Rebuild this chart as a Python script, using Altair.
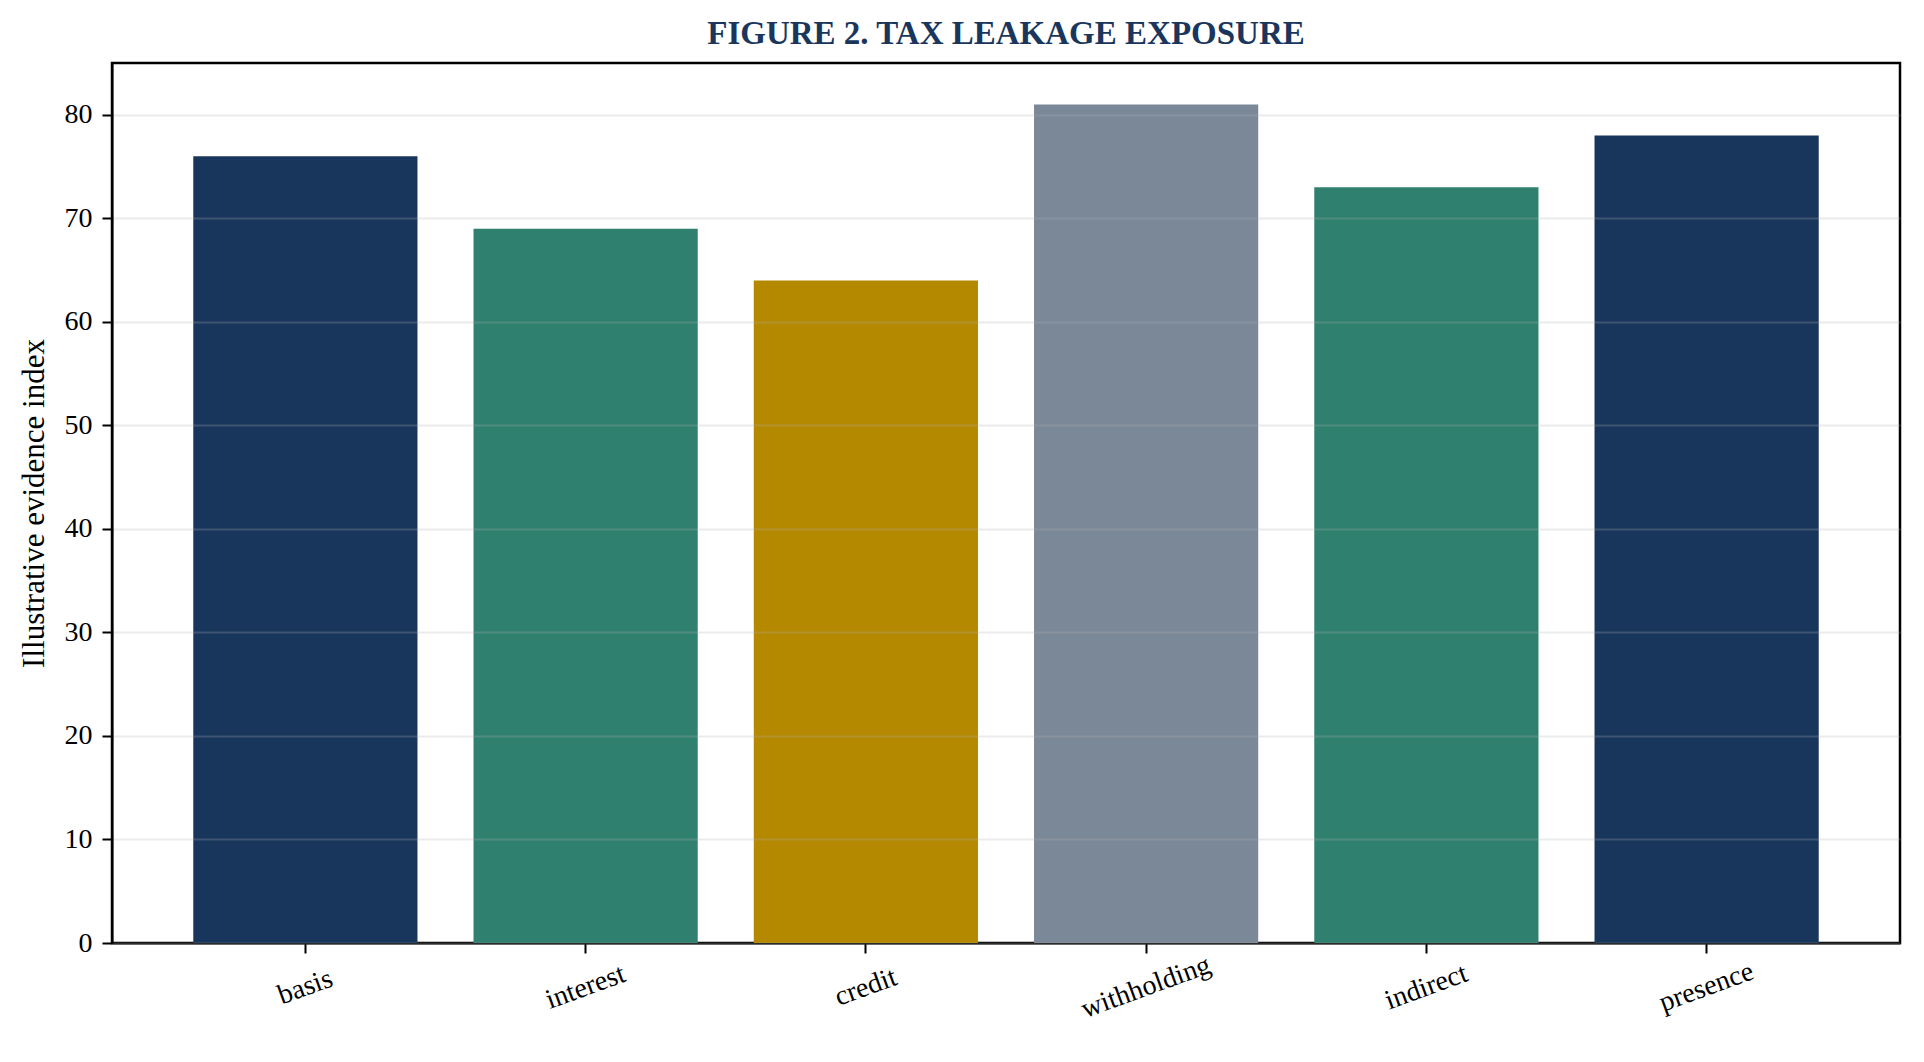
import altair as alt
import pandas as pd

categories = ["basis", "interest", "credit", "withholding", "indirect", "presence"]
values = [76, 69, 64, 81, 73, 78]
bar_colors = ["#18365c", "#2f806f", "#b48900", "#7b8898", "#2f806f", "#18365c"]
y_ticks = [0, 10, 20, 30, 40, 50, 60, 70, 80]

df = pd.DataFrame({"category": categories, "value": values})

FONT = "Liberation Serif"

bars = alt.Chart(df).mark_bar().encode(
    x=alt.X(
        "category:N",
        sort=categories,
        scale=alt.Scale(paddingInner=0.2, paddingOuter=0.29),
        axis=alt.Axis(
            title=None,
            labelAngle=340,
            labelAlign="center",
            labelBaseline="middle",
            labelPadding=34,
            labelFont=FONT,
            labelFontSize=28,
            labelColor="#000000",
            tickColor="#000000",
            tickSize=10,
            tickWidth=2,
            domainColor="#000000",
            domainWidth=2,
            grid=False,
        ),
    ),
    y=alt.Y(
        "value:Q",
        scale=alt.Scale(domain=[0, 85], nice=False),
        axis=alt.Axis(
            title="Illustrative evidence index",
            titleFont=FONT,
            titleFontSize=31,
            titleFontWeight="normal",
            titleColor="#000000",
            titleAngle=270,
            titleAlign="center",
            titleBaseline="middle",
            titleX=-78,
            titleY=440,
            values=y_ticks,
            labelFont=FONT,
            labelFontSize=28,
            labelColor="#000000",
            labelPadding=10,
            tickColor="#000000",
            tickSize=10,
            tickWidth=2,
            domainColor="#000000",
            domainWidth=2,
            grid=True,
            gridColor="#b0b0b0",
            gridOpacity=0.25,
            gridWidth=2,
            zindex=1,
        ),
    ),
    color=alt.Color(
        "category:N",
        scale=alt.Scale(domain=categories, range=bar_colors),
        legend=None,
    ),
).properties(
    width=1788,
    height=880,
    title=alt.TitleParams(
        text="FIGURE 2. TAX LEAKAGE EXPOSURE",
        font=FONT,
        fontSize=33,
        fontWeight="bold",
        color="#1a365d",
        anchor="middle",
        baseline="middle",
        offset=-4,
    ),
    autosize=alt.AutoSizeParams(type="none"),
    padding={"left": 104, "top": 55, "right": 4, "bottom": 100},
).configure(
    background="#ffffff",
    view=alt.ViewConfig(stroke="#000000", strokeWidth=2.5, fill="#ffffff"),
)

chart = bars
chart.save("out.html", embed_options={"renderer": "svg", "actions": False})
